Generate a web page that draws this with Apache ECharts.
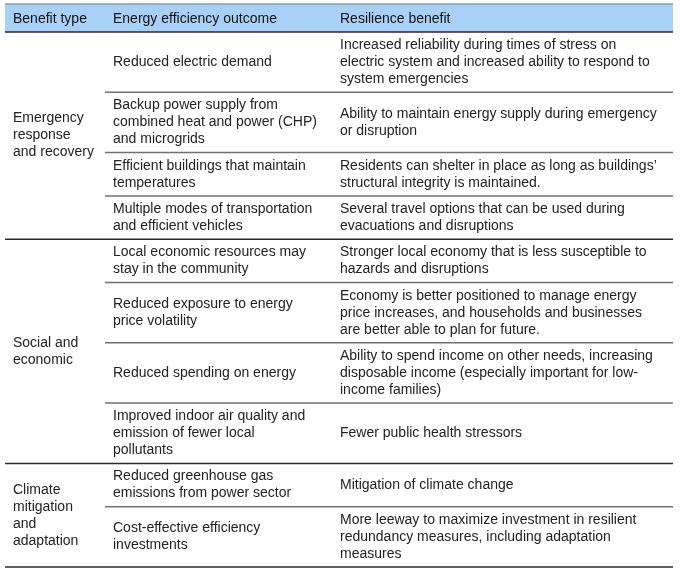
<!DOCTYPE html>
<html>
<head>
<meta charset="utf-8">
<script src="https://cdn.jsdelivr.net/npm/echarts@6/dist/echarts.min.js"></script>
<style>
  html, body { margin: 0; padding: 0; background: #fff; }
  #main { width: 680px; height: 573px; }
</style>
</head>
<body>
<div id="main"></div>
<script>
// table content
var headers = ["Benefit type", "Energy efficiency outcome", "Resilience benefit"];

var benefitTypes = [
  "Emergency\nresponse\nand recovery",
  "Social and\neconomic",
  "Climate\nmitigation\nand\nadaptation"
];

// which benefit type each row belongs to
var rowGroup = [0, 0, 0, 0, 1, 1, 1, 1, 2, 2];

var outcomes = [
  "Reduced electric demand",
  "Backup power supply from\ncombined heat and power (CHP)\nand microgrids",
  "Efficient buildings that maintain\ntemperatures",
  "Multiple modes of transportation\nand efficient vehicles",
  "Local economic resources may\nstay in the community",
  "Reduced exposure to energy\nprice volatility",
  "Reduced spending on energy",
  "Improved indoor air quality and\nemission of fewer local\npollutants",
  "Reduced greenhouse gas\nemissions from power sector",
  "Cost-effective efficiency\ninvestments"
];

var benefits = [
  "Increased reliability during times of stress on\nelectric system and increased ability to respond to\nsystem emergencies",
  "Ability to maintain energy supply during emergency\nor disruption",
  "Residents can shelter in place as long as buildings\u2019\nstructural integrity is maintained.",
  "Several travel options that can be used during\nevacuations and disruptions",
  "Stronger local economy that is less susceptible to\nhazards and disruptions",
  "Economy is better positioned to manage energy\nprice increases, and households and businesses\nare better able to plan for future.",
  "Ability to spend income on other needs, increasing\ndisposable income (especially important for low-\nincome families)",
  "Fewer public health stressors",
  "Mitigation of climate change",
  "More leeway to maximize investment in resilient\nredundancy measures, including adaptation\nmeasures"
];

var FONT = '14px "Liberation Sans", Arial, sans-serif';
var LINE_H = 17;
var ROW_PAD = 9.3;
var HEAD_H = 28;
var TABLE_W = 668;
var colStart = [0, 100, 327];
var textPad = 8;

function nLines(s) { return s.split("\n").length; }

// build row extents (in table units, y grows downward)
var rowData = [];
var y = HEAD_H;
for (var i = 0; i < outcomes.length; i++) {
  var h = Math.max(nLines(outcomes[i]), nLines(benefits[i])) * LINE_H + ROW_PAD;
  var last = (i === outcomes.length - 1) || rowGroup[i + 1] !== rowGroup[i];
  rowData.push([y, y + h, last ? 1 : 0]);
  y += h;
}
var total = y;

var groupData = benefitTypes.map(function (t, g) {
  var ys = rowData.filter(function (r, i) { return rowGroup[i] === g; });
  return [ys[0][0], ys[ys.length - 1][1]];
});

function txt(x, yy, s, extra) {
  var st = {
    text: s, x: x, y: yy, font: FONT, fill: "#222",
    lineHeight: LINE_H, align: "left", verticalAlign: "middle"
  };
  return { type: "text", style: Object.assign(st, extra || {}) };
}

function renderHeader(params, api) {
  var tl = api.coord([0, 0]);
  var br = api.coord([TABLE_W, HEAD_H]);
  var mid = (tl[1] + br[1]) / 2;
  var children = [
    { type: "rect", shape: { x: tl[0], y: tl[1], width: br[0] - tl[0], height: br[1] - tl[1] },
      style: { fill: "#a9d1f7" } },
    { type: "line", shape: { x1: tl[0], y1: tl[1], x2: br[0], y2: tl[1] },
      style: { stroke: "#9a9a9a", lineWidth: 1.5 } },
    { type: "line", shape: { x1: tl[0], y1: br[1], x2: br[0], y2: br[1] },
      style: { stroke: "#1c2840", lineWidth: 1.5 } }
  ];
  for (var c = 0; c < headers.length; c++) {
    children.push(txt(api.coord([colStart[c], 0])[0] + textPad, mid + 1, headers[c], { fill: "#111" }));
  }
  return { type: "group", children: children };
}

function renderRow(params, api) {
  var i = params.dataIndex;
  var y0 = api.value(0), y1 = api.value(1), last = api.value(2);
  var top = api.coord([0, y0])[1];
  var bot = api.coord([0, y1])[1];
  var mid = (top + bot) / 2;
  var x2 = api.coord([colStart[1], y0])[0];
  var x3 = api.coord([colStart[2], y0])[0];
  var xl = api.coord([last ? 0 : colStart[1], y1])[0];
  var xr = api.coord([TABLE_W, y1])[0];
  return {
    type: "group",
    children: [
      txt(x2 + textPad, mid, outcomes[i]),
      txt(x3 + textPad, mid, benefits[i]),
      { type: "line", shape: { x1: xl, y1: bot, x2: xr, y2: bot },
        style: { stroke: last ? "#2a2a2a" : "#707070", lineWidth: 1.5 } }
    ]
  };
}

function renderGroup(params, api) {
  var g = params.dataIndex;
  var top = api.coord([0, api.value(0)]);
  var bot = api.coord([0, api.value(1)]);
  return txt(top[0] + textPad, (top[1] + bot[1]) / 2, benefitTypes[g]);
}

var chart = echarts.init(document.getElementById("main"), null, { renderer: "canvas" });
chart.setOption({
  animation: false,
  grid: { left: 5, top: 4, width: TABLE_W, height: total },
  xAxis: { type: "value", min: 0, max: TABLE_W, show: false },
  yAxis: { type: "value", min: 0, max: total, inverse: true, show: false },
  series: [
    { type: "custom", silent: true, renderItem: renderHeader, data: [[0]] },
    { type: "custom", silent: true, renderItem: renderRow, data: rowData },
    { type: "custom", silent: true, renderItem: renderGroup, data: groupData }
  ]
});
</script>
</body>
</html>
